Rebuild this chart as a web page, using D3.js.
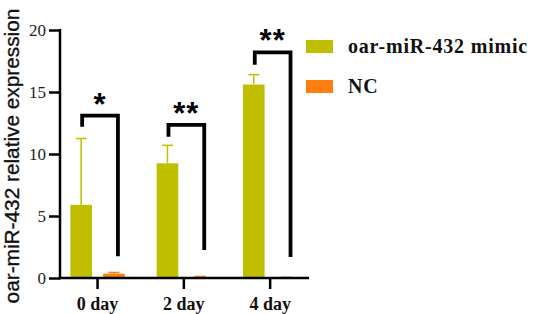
<!DOCTYPE html>
<html>
<head>
<meta charset="utf-8">
<script src="https://cdn.jsdelivr.net/npm/d3@7"></script>
<style>
  html, body { margin: 0; padding: 0; background: #fff; }
  svg { display: block; }
  .tick text { font-family: "Liberation Serif", "Times New Roman", serif; }
</style>
</head>
<body>
<svg id="chart" width="533" height="314"></svg>
<script>
// data
const days = ["0 day", "2 day", "4 day"];
const seriesNames = ["oar-miR-432 mimic", "NC"];
const mimicMean = [5.9, 9.25, 15.6];
const mimicUpper = [11.25, 10.7, 16.4];
const ncMean = [0.35, 0.08, 0.04];
const ncUpper = [0.45, 0.12, 0.06];
const yTicks = [0, 5, 10, 15, 20];
const stars = ["*", "**", "**"];
const bracketTop = [13.1, 12.35, 18.2];
const bracketLeftEnd = [12.2, 11.4, 17.2];
const bracketRightEnd = [1.75, 2.25, 1.7];

const colors = {"oar-miR-432 mimic": "#bfbf00", "NC": "#ff7f0e"};

const svg = d3.select("#chart");

const y = d3.scaleLinear().domain([0, 20]).range([278, 30]);
const x = d3.scaleBand().domain(days).range([54.4, 313.3]);
const xs = d3.scaleBand().domain(seriesNames).range([-27.2, 27.2]).paddingInner(0.34);

const rows = days.map(function (d, i) {
  return [
    {day: d, s: seriesNames[0], v: mimicMean[i], up: mimicUpper[i]},
    {day: d, s: seriesNames[1], v: ncMean[i], up: ncUpper[i]}
  ];
}).flat();

function cx(d) { return x(d.day) + x.bandwidth() / 2 + xs(d.s) + xs.bandwidth() / 2; }

/* bars */
svg.append("g").selectAll("rect")
  .data(rows)
  .enter()
  .append("rect")
  .attr("x", function (d) { return x(d.day) + x.bandwidth() / 2 + xs(d.s); })
  .attr("width", xs.bandwidth())
  .attr("y", function (d) { return y(d.v); })
  .attr("height", function (d) { return y(0) - y(d.v); })
  .attr("fill", function (d) { return colors[d.s]; });

/* upper error bars */
const err = svg.append("g").selectAll("g")
  .data(rows)
  .enter()
  .append("g")
  .attr("stroke", function (d) { return colors[d.s]; })
  .attr("stroke-width", 1.5);
err.append("line")
  .attr("x1", cx).attr("x2", cx)
  .attr("y1", function (d) { return y(d.v); })
  .attr("y2", function (d) { return y(d.up); });
err.append("line")
  .attr("x1", function (d) { return cx(d) - 5.5; })
  .attr("x2", function (d) { return cx(d) + 5.5; })
  .attr("y1", function (d) { return y(d.up); })
  .attr("y2", function (d) { return y(d.up); });

/* y axis */
const yAxis = svg.append("g")
  .attr("transform", "translate(60,0)")
  .call(d3.axisLeft(y).tickValues(yTicks).tickSize(11).tickPadding(3).tickSizeOuter(0));
yAxis.select(".domain").remove();
yAxis.selectAll(".tick line").attr("stroke", "#000").attr("stroke-width", 2.5);
yAxis.selectAll(".tick text").attr("font-size", 17).attr("fill", "#222");
svg.append("line")
  .attr("x1", 60).attr("x2", 60).attr("y1", y(20) - 1).attr("y2", y(0) + 1.2)
  .attr("stroke", "#000").attr("stroke-width", 2.5);

/* x axis */
const xAxis = svg.append("g")
  .attr("transform", "translate(0," + y(0) + ")")
  .call(d3.axisBottom(x).tickSize(11).tickPadding(7));
xAxis.select(".domain").remove();
xAxis.selectAll(".tick line").attr("stroke", "#000").attr("stroke-width", 2.5);
xAxis.selectAll(".tick text")
  .attr("font-size", 18).attr("font-weight", "bold").attr("fill", "#111")
  .attr("dy", "0.75em");
svg.append("line")
  .attr("x1", 58.8).attr("x2", 309).attr("y1", y(0)).attr("y2", y(0))
  .attr("stroke", "#000").attr("stroke-width", 2.5);

/* y title */
svg.append("text")
  .attr("transform", "translate(18.5," + 156 + ") rotate(-90)")
  .attr("text-anchor", "middle")
  .attr("font-family", "'Liberation Sans', Arial, sans-serif")
  .attr("font-size", 20.8)
  .attr("fill", "#111")
  .attr("stroke", "#111")
  .attr("stroke-width", 0.35)
  .text("oar-miR-432 relative expression");

/* significance brackets */
days.forEach(function (d, i) {
  const lx = cx({day: d, s: seriesNames[0]}) + 1;
  const rx = cx({day: d, s: seriesNames[1]}) + 4;
  svg.append("path")
    .attr("d", "M" + lx + "," + y(bracketLeftEnd[i]) + "V" + y(bracketTop[i]) +
               "H" + rx + "V" + y(bracketRightEnd[i]))
    .attr("fill", "none")
    .attr("stroke", "#000")
    .attr("stroke-width", 3.8);
  svg.append("text")
    .attr("x", (lx + rx) / 2)
    .attr("y", y(bracketTop[i]) - 1)
    .attr("text-anchor", "middle")
    .attr("font-family", "'Liberation Sans', Arial, sans-serif")
    .attr("font-weight", "bold")
    .attr("font-size", 31)
    .attr("letter-spacing", 1)
    .text(stars[i]);
});

/* legend */
const legend = svg.append("g").selectAll("g")
  .data(seriesNames)
  .enter()
  .append("g")
  .attr("transform", function (d, i) { return "translate(306," + (40 + i * 40) + ")"; });
legend.append("rect")
  .attr("width", 27).attr("height", 13)
  .attr("fill", function (d) { return colors[d]; });
legend.append("text")
  .attr("x", 42).attr("y", 12.5)
  .attr("font-family", "'Liberation Serif', 'Times New Roman', serif")
  .attr("font-weight", "bold")
  .attr("font-size", 20)
  .attr("letter-spacing", 0.8)
  .attr("fill", "#111")
  .text(function (d) { return d; });
</script>
</body>
</html>
